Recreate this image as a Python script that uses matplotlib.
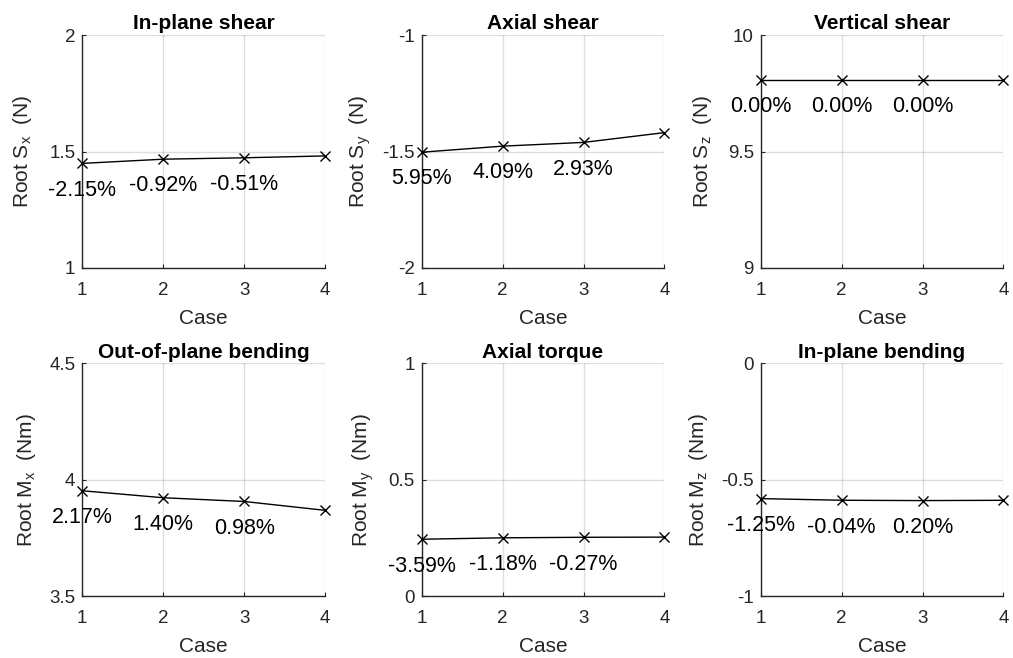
import matplotlib
matplotlib.use("Agg")
import matplotlib.pyplot as plt

plt.rcParams["font.family"] = ["Liberation Sans", "DejaVu Sans"]
plt.rcParams["mathtext.default"] = "regular"

cases = [1, 2, 3, 4]

titles = ["In-plane shear", "Axial shear", "Vertical shear",
          "Out-of-plane bending", "Axial torque", "In-plane bending"]
ylabels = ["Root S$_x$  (N)", "Root S$_y$  (N)", "Root S$_z$  (N)",
           "Root M$_x$  (Nm)", "Root M$_y$  (Nm)", "Root M$_z$  (Nm)"]

sx = [1.449, 1.467, 1.473, 1.481]
sy = [-1.503, -1.477, -1.461, -1.419]
sz = [9.807, 9.807, 9.807, 9.807]
mx = [3.953, 3.923, 3.907, 3.869]
my = [0.2449, 0.2510, 0.2533, 0.2540]
mz = [-0.5807, -0.5878, -0.5892, -0.5880]

sx_pct = ["-2.15%", "-0.92%", "-0.51%"]
sy_pct = ["5.95%", "4.09%", "2.93%"]
sz_pct = ["0.00%", "0.00%", "0.00%"]
mx_pct = ["2.17%", "1.40%", "0.98%"]
my_pct = ["-3.59%", "-1.18%", "-0.27%"]
mz_pct = ["-1.25%", "-0.04%", "0.20%"]

ylims = [(1, 2), (-2, -1), (9, 10), (3.5, 4.5), (0, 1), (-1, 0)]
yticks = [[1, 1.5, 2], [-2, -1.5, -1], [9, 9.5, 10],
          [3.5, 4, 4.5], [0, 0.5, 1], [-1, -0.5, 0]]
ytick_labels = [["1", "1.5", "2"], ["-2", "-1.5", "-1"], ["9", "9.5", "10"],
                ["3.5", "4", "4.5"], ["0", "0.5", "1"], ["-1", "-0.5", "0"]]

series = [sx, sy, sz, mx, my, mz]
pcts = [sx_pct, sy_pct, sz_pct, mx_pct, my_pct, mz_pct]

W, H = 1013, 658
fig = plt.figure(figsize=(W / 100, H / 100), dpi=100)

lefts = [82.3, 421.7, 760.7]
tops = [35.0, 363.3]
aw, ah = 242.7, 233.0
ylabel_x = [-0.248, -0.254, -0.238, -0.228, -0.241, -0.257]

axc = "#262626"

for i in range(6):
    r, c = divmod(i, 3)
    l = lefts[c] / W
    b = 1 - (tops[r] + ah) / H
    ax = fig.add_axes([l, b, aw / W, ah / H])
    vals = series[i]
    ax.plot(cases, vals, color="black", lw=1.0, marker="x", ms=7,
            mew=1.0, clip_on=False, zorder=3)
    for x, v, t in zip(cases[:3], vals[:3], pcts[i]):
        ax.text(x, v - 0.115, t, ha="center", va="center", fontsize=15.5,
                color="black")
    ax.set_xlim(1, 4)
    ax.set_ylim(*ylims[i])
    ax.set_xticks(cases)
    ax.set_xticklabels([str(k) for k in cases])
    ax.set_yticks(yticks[i])
    ax.set_yticklabels(ytick_labels[i])
    ax.grid(True, color="#262626", alpha=0.15, lw=1.0)
    ax.set_axisbelow(True)
    for s in ["top", "right"]:
        ax.spines[s].set_visible(False)
    for s in ["left", "bottom"]:
        ax.spines[s].set_color(axc)
        ax.spines[s].set_linewidth(1.0)
    ax.tick_params(direction="in", length=3, width=0.8, colors=axc,
                   labelsize=13.5)
    ax.tick_params(axis="x", pad=10)
    ax.tick_params(axis="y", pad=5)
    ax.set_title(titles[i], fontsize=15, fontweight="bold", pad=4)
    ax.set_xlabel("Case", fontsize=15, color=axc, labelpad=7)
    ax.set_ylabel(ylabels[i], fontsize=15, color=axc)
    ax.yaxis.label.set_va("center")
    ax.yaxis.set_label_coords(ylabel_x[i], 0.5)

fig.savefig("out.png", dpi=100)
